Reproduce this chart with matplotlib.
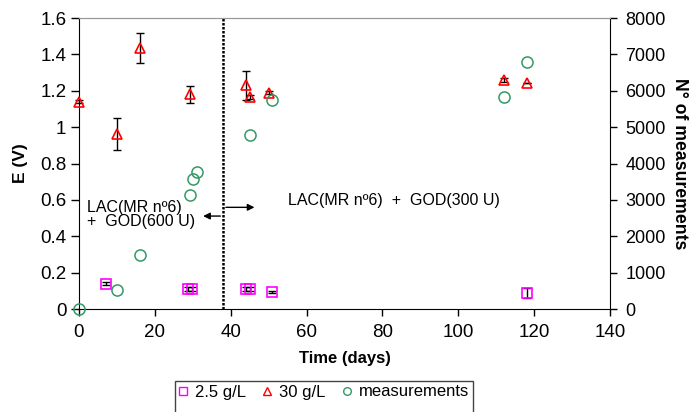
import matplotlib
matplotlib.use("Agg")
import matplotlib.pyplot as plt
from matplotlib.patches import Rectangle

plt.rcParams['font.family'] = ['Liberation Sans', 'DejaVu Sans']

# 2.5 g/L series (left axis, E in V)
days_low = [7, 28.7, 29.9, 44, 45, 51, 118]
e_low = [0.14, 0.11, 0.11, 0.11, 0.11, 0.094, 0.086]
err_low = [0.01, 0.01, 0.01, 0.01, 0.01, 0.005, 0.027]

# 30 g/L series (left axis)
days_high = [0, 10, 16, 29.3, 44, 45, 50, 112, 118]
e_high = [1.14, 0.96, 1.435, 1.18, 1.23, 1.165, 1.19, 1.26, 1.24]
err_high = [0.01, 0.088, 0.085, 0.045, 0.08, 0.01, 0.01, 0.01, 0.0]

# number of measurements (right axis)
days_meas = [0, 10, 16, 29.3, 30, 31, 45, 51, 112, 118]
n_meas = [0, 520, 1490, 3130, 3580, 3770, 4780, 5750, 5830, 6780]

split_day = 38

fig = plt.figure(figsize=(6.91, 4.12), dpi=100)
ax = fig.add_axes([0.1143, 0.25, 0.7685, 0.7063])
ax2 = ax.twinx()

ax.errorbar(days_low, e_low, yerr=err_low, fmt='none', ecolor='black',
            elinewidth=1, capsize=3, zorder=3, clip_on=False)
ax.plot(days_low, e_low, 's', ms=7, mfc='none', mec='#FF00FF', mew=1.2,
        zorder=4, clip_on=False)
ax.errorbar(days_high, e_high, yerr=err_high, fmt='none', ecolor='black',
            elinewidth=1, capsize=3, zorder=3, clip_on=False)
ax.plot(days_high, e_high, '^', ms=7, mfc='none', mec='#FF0000', mew=1.2,
        zorder=4, clip_on=False)
ax2.plot(days_meas, n_meas, 'o', ms=8, mfc='none', mec='#339966', mew=1.1,
         clip_on=False)

ax.axvline(split_day, color='black', lw=1.8, ls=(0, (1, 0.6)), zorder=2)

ax.set_xlim(0, 140)
ax.set_ylim(0, 1.6)
ax2.set_ylim(0, 8000)
ax.set_xticks(range(0, 141, 20))
ax.set_yticks([0, 0.2, 0.4, 0.6, 0.8, 1, 1.2, 1.4, 1.6])
ax.set_yticklabels(['0', '0.2', '0.4', '0.6', '0.8', '1', '1.2', '1.4', '1.6'])
ax2.set_yticks(range(0, 8001, 1000))

ax.tick_params(axis='x', direction='out', length=5, width=1, labelsize=13.5, pad=6)
ax.tick_params(axis='y', direction='out', length=6, width=1, labelsize=13.5, pad=3)
ax2.tick_params(axis='y', direction='out', length=5, width=1, labelsize=13, pad=6)
for a in (ax, ax2):
    a.spines['top'].set_color('#999999')
ax.spines['right'].set_visible(False)
ax2.spines['left'].set_visible(False)
ax2.spines['bottom'].set_visible(False)

ax.set_xlabel('Time (days)', fontsize=12, fontweight='bold', labelpad=7)
ax.set_ylabel('E (V)', fontsize=12.5, fontweight='bold', labelpad=9)
ax2.set_ylabel('N° of measurements', fontsize=12.7, fontweight='bold',
               rotation=270, labelpad=16)

ax.text(2.2, 0.52, 'LAC(MR nº6)\n+  GOD(600 U)', fontsize=11.5, va='center',
        ha='left', linespacing=0.95)
ax.text(55, 0.595, 'LAC(MR nº6)  +  GOD(300 U)', fontsize=11.5, va='center',
        ha='left')
ax.annotate('', xy=(32, 0.511), xytext=(split_day, 0.511),
            arrowprops=dict(arrowstyle='-|>', color='black', lw=1,
                            mutation_scale=10))
ax.annotate('', xy=(47, 0.559), xytext=(split_day, 0.559),
            arrowprops=dict(arrowstyle='-|>', color='black', lw=1,
                            mutation_scale=10))

h1 = plt.Line2D([], [], ls='none', marker='s', ms=5.5, mfc='none',
                mec='#FF00FF')
h2 = plt.Line2D([], [], ls='none', marker='^', ms=5.5, mfc='none',
                mec='#FF0000')
h3 = plt.Line2D([], [], ls='none', marker='o', ms=5.5, mfc='none',
                mec='#339966')
leg = fig.legend([h1, h2, h3], ['2.5 g/L', '30 g/L', 'measurements'],
                 ncol=3, loc='center left',
                 bbox_to_anchor=(178 / 691, 1 - 392 / 412),
                 fontsize=12, frameon=False, handletextpad=0.4,
                 columnspacing=1.0, handlelength=0.6, borderaxespad=0,
                 borderpad=0)
fig.patches.append(Rectangle((175 / 691, -0.02), 298 / 691, 0.02 + 31 / 412,
                             transform=fig.transFigure, fill=False,
                             edgecolor='#444444', lw=1))

fig.savefig('out.png', dpi=100)
